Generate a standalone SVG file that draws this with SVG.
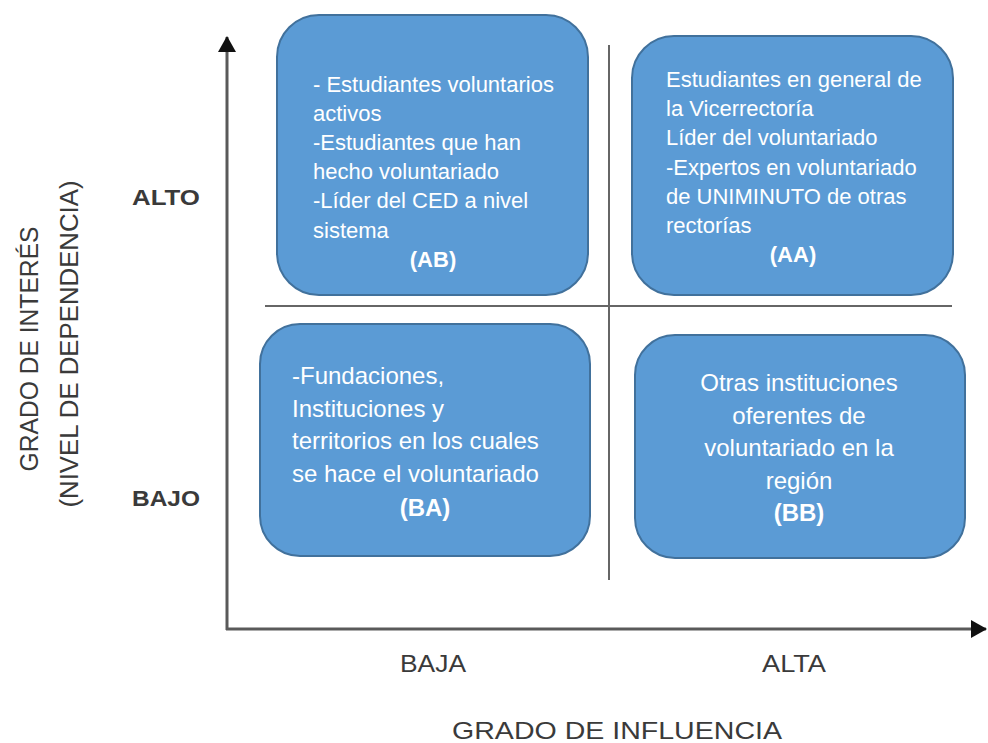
<svg xmlns="http://www.w3.org/2000/svg" width="988" height="743" viewBox="0 0 988 743">
<style>
.box{fill:#5B9BD5;stroke:#41719C;stroke-width:2}
.t{font-family:"Liberation Sans",Arial,sans-serif;fill:#ffffff}
.s{font-size:22px}
.m{font-size:24px}
.b{font-weight:bold}
.ax{stroke:#5a5a5a;stroke-width:3;fill:none}
.lbl{font-family:"Liberation Sans",Arial,sans-serif;fill:#3a3a3a}
</style>
<defs>
<marker id="ah" markerWidth="16" markerHeight="18" refX="15" refY="9" orient="auto" markerUnits="userSpaceOnUse">
<path d="M0,0 L16,9 L0,18 Z" fill="#111"/>
</marker>
</defs>
<g id="connectors">
<line class="ax" x1="227" y1="630" x2="227" y2="37" marker-end="url(#ah)"/>
<line class="ax" x1="226" y1="629" x2="986" y2="629" marker-end="url(#ah)"/>
<line x1="609" y1="45" x2="609" y2="580" stroke="#666" stroke-width="2"/>
<line x1="265" y1="306" x2="952" y2="306" stroke="#666" stroke-width="2"/>
</g>
<g id="node-AB">
<rect class="box" x="277" y="15" width="311" height="280" rx="42"/>
<text class="t s"><tspan x="313" y="92">- Estudiantes voluntarios</tspan><tspan x="313" y="121">activos</tspan><tspan x="313" y="150">-Estudiantes que han</tspan><tspan x="313" y="179">hecho voluntariado</tspan><tspan x="313" y="208">-Líder del CED a nivel</tspan><tspan x="313" y="238">sistema</tspan></text>
<text class="t s b" x="433" y="267" text-anchor="middle">(AB)</text>
</g>
<g id="node-AA">
<rect class="box" x="632" y="36" width="321" height="259" rx="42"/>
<text class="t s"><tspan x="666" y="87">Estudiantes en general de</tspan><tspan x="666" y="116">la Vicerrectoría</tspan><tspan x="666" y="145">Líder del voluntariado</tspan><tspan x="666" y="175">-Expertos en voluntariado</tspan><tspan x="666" y="204">de UNIMINUTO de otras</tspan><tspan x="666" y="233">rectorías</tspan></text>
<text class="t s b" x="793" y="262" text-anchor="middle">(AA)</text>
</g>
<g id="node-BA">
<rect class="box" x="260" y="324" width="330" height="232" rx="40"/>
<text class="t m"><tspan x="292" y="384">-Fundaciones,</tspan><tspan x="292" y="417">Instituciones y</tspan><tspan x="292" y="449">territorios en los cuales</tspan><tspan x="292" y="482">se hace el voluntariado</tspan></text>
<text class="t m b" x="425" y="516" text-anchor="middle">(BA)</text>
</g>
<g id="node-BB">
<rect class="box" x="635" y="335" width="330" height="223" rx="40"/>
<text class="t m" text-anchor="middle"><tspan x="799" y="391">Otras instituciones</tspan><tspan x="799" y="424">oferentes de</tspan><tspan x="799" y="456">voluntariado en la</tspan><tspan x="799" y="489">región</tspan></text>
<text class="t m b" x="799" y="521" text-anchor="middle">(BB)</text>
</g>
<g id="axis-labels">
<text class="lbl" x="166" y="205" font-size="22" font-weight="bold" text-anchor="middle" textLength="68" lengthAdjust="spacingAndGlyphs">ALTO</text>
<text class="lbl" x="166" y="506" font-size="22" font-weight="bold" text-anchor="middle" textLength="68" lengthAdjust="spacingAndGlyphs">BAJO</text>
<text class="lbl" x="433" y="672" font-size="23" text-anchor="middle" textLength="66" lengthAdjust="spacingAndGlyphs">BAJA</text>
<text class="lbl" x="794" y="672" font-size="23" text-anchor="middle" textLength="64" lengthAdjust="spacingAndGlyphs">ALTA</text>
<text class="lbl" x="617" y="739" font-size="24" text-anchor="middle" textLength="330" lengthAdjust="spacingAndGlyphs">GRADO DE INFLUENCIA</text>
<text class="lbl" transform="translate(38,349) rotate(-90)" x="0" y="0" font-size="25" text-anchor="middle" textLength="245" lengthAdjust="spacingAndGlyphs">GRADO DE INTERÉS</text>
<text class="lbl" transform="translate(78,344) rotate(-90)" x="0" y="0" font-size="25" text-anchor="middle" textLength="327" lengthAdjust="spacingAndGlyphs">(NIVEL DE DEPENDENCIA)</text>
</g>
</svg>
